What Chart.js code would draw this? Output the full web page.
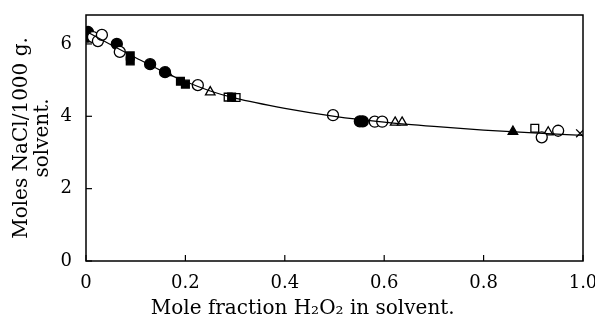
<!DOCTYPE html>
<html>
<head>
<meta charset="utf-8">
<script src="https://cdn.jsdelivr.net/npm/chart.js@4.4.1/dist/chart.umd.min.js"></script>
<style>
    html, body { margin: 0; padding: 0; background: #fff; }
    #wrap { width: 595px; height: 323px; }
</style>
</head>
<body>
<div id="wrap"><canvas id="grafico"></canvas></div>
<script>
// smooth curve drawn through the data
const curvaX = [0, 0.05, 0.1, 0.15, 0.2, 0.25, 0.3, 0.4, 0.5, 0.6, 0.7, 0.8, 0.9, 1.0];
const curvaY = [6.35, 5.98, 5.62, 5.27, 4.96, 4.7, 4.5, 4.22, 4.0, 3.84, 3.72, 3.62, 3.54, 3.47];

// measured points, grouped by marker
const circAbertoX = [0.014, 0.024, 0.032, 0.068, 0.225, 0.497, 0.581, 0.596, 0.917, 0.95];
const circAbertoY = [6.19, 6.08, 6.25, 5.78, 4.86, 4.03, 3.85, 3.85, 3.42, 3.6];
const circCheioX = [0.004, 0.004, 0.062, 0.129, 0.159, 0.551, 0.557];
const circCheioY = [6.33, 6.2, 6.0, 5.44, 5.22, 3.86, 3.86];
const quadCheioX = [0.089, 0.089, 0.19, 0.2, 0.293];
const quadCheioY = [5.67, 5.53, 4.97, 4.89, 4.53];
const quadAbertoX = [0.286, 0.302, 0.903];
const quadAbertoY = [4.53, 4.52, 3.67];
const triAbertoX = [0.25, 0.622, 0.636, 0.93, 0.95];
const triAbertoY = [4.67, 3.83, 3.83, 3.56, 3.58];
const triCheioX = [0.859, 0.163];
const triCheioY = [3.58, 5.2];
const cruzX = [0.994];
const cruzY = [3.53];

const ticksX = [0, 0.2, 0.4, 0.6, 0.8, 1.0];
const ticksY = [0, 2, 4, 6];

function pares(xs, ys) {
    return xs.map((x, i) => ({ x: x, y: ys[i] }));
}

function serie(xs, ys, estilo, cheio, raio) {
    return {
        type: 'scatter',
        data: pares(xs, ys),
        pointStyle: estilo,
        pointRadius: raio,
        pointBackgroundColor: cheio ? '#000' : '#fff',
        pointBorderColor: '#000',
        pointBorderWidth: 1.3,
        showLine: false
    };
}

const fonteTick = { family: "'DejaVu Serif', serif", size: 18 };
const fonteTitulo = { family: "'DejaVu Serif', serif", size: 20, lineHeight: 1.05 };

// frame + inward tick marks
const molduraPlugin = {
    id: 'moldura',
    afterDraw(chart) {
        const ctx = chart.ctx;
        const a = chart.chartArea;
        const sx = chart.scales.x, sy = chart.scales.y;
        ctx.save();
        ctx.strokeStyle = '#000';
        ctx.lineWidth = 1.5;
        ctx.strokeRect(a.left, a.top, a.right - a.left, a.bottom - a.top);
        ctx.lineWidth = 1.2;
        ticksX.forEach(v => {
            const px = sx.getPixelForValue(v);
            ctx.beginPath();
            ctx.moveTo(px, a.bottom);
            ctx.lineTo(px, a.bottom - 6);
            ctx.stroke();
        });
        ticksY.forEach(v => {
            const py = sy.getPixelForValue(v);
            ctx.beginPath();
            ctx.moveTo(a.left, py);
            ctx.lineTo(a.left + 6, py);
            ctx.stroke();
        });
        ctx.restore();
    }
};

new Chart(document.getElementById('grafico'), {
    data: {
        datasets: [
            {
                type: 'line',
                data: pares(curvaX, curvaY),
                borderColor: '#000',
                borderWidth: 1.2,
                pointRadius: 0,
                cubicInterpolationMode: 'monotone',
                fill: false
            },
            serie(circAbertoX, circAbertoY, 'circle', false, 5.5),
            serie(circCheioX, circCheioY, 'circle', true, 5.5),
            serie(quadCheioX, quadCheioY, 'rect', true, 5.5),
            serie(quadAbertoX, quadAbertoY, 'rect', false, 5.5),
            serie(triAbertoX, triAbertoY, 'triangle', false, 5.5),
            serie(triCheioX, triCheioY, 'triangle', true, 5.5),
            serie(cruzX, cruzY, 'crossRot', false, 5.5)
        ]
    },
    options: {
        responsive: true,
        maintainAspectRatio: false,
        animation: false,
        layout: { padding: { top: 15, right: 12, left: 0, bottom: 0 } },
        plugins: {
            legend: { display: false },
            tooltip: { enabled: false }
        },
        scales: {
            x: {
                type: 'linear',
                min: 0,
                max: 1.0,
                border: { display: false },
                grid: { display: false },
                afterBuildTicks: s => { s.ticks = ticksX.map(v => ({ value: v })); },
                afterFit: s => { s.height = 62; s.paddingLeft = 0; s.paddingRight = 0; },
                ticks: {
                    color: '#000',
                    font: fonteTick,
                    padding: 4,
                    maxRotation: 0,
                    callback: v => (v === 0 ? '0' : v.toFixed(1))
                },
                title: {
                    display: true,
                    // trailing spaces pull the title left, as in the original
                    text: 'Mole fraction H\u2082O\u2082 in solvent.' + '\u00a0'.repeat(10),
                    color: '#000',
                    font: fonteTitulo,
                    padding: { top: 0, bottom: 4 }
                }
            },
            y: {
                type: 'linear',
                min: 0,
                max: 6.8,
                border: { display: false },
                grid: { display: false },
                afterBuildTicks: s => { s.ticks = ticksY.map(v => ({ value: v })); },
                afterFit: s => { s.width = 86; s.paddingTop = 0; s.paddingBottom = 0; },
                ticks: {
                    color: '#000',
                    font: fonteTick,
                    padding: 6
                },
                title: {
                    display: true,
                    text: ['Moles NaCl/1000 g.', 'solvent.'],
                    color: '#000',
                    font: fonteTitulo,
                    padding: { top: 11, bottom: 6 }
                }
            }
        }
    },
    plugins: [molduraPlugin]
});
</script>
</body>
</html>
